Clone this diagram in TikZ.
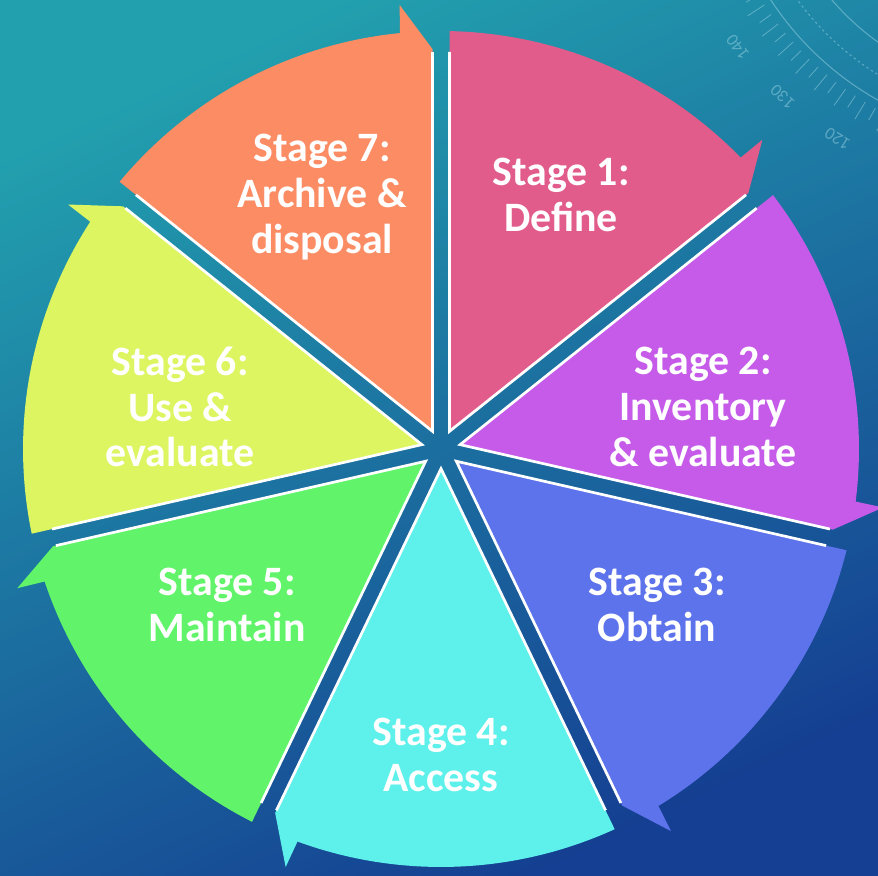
\documentclass[tikz,border=0pt]{standalone}
\usepackage{fontspec}
\setmainfont{Carlito}
\usetikzlibrary{calc}
\definecolor{bgA}{HTML}{22A0AE}
\definecolor{bgB}{HTML}{1A6E9E}
\definecolor{bgC}{HTML}{153F92}
\definecolor{dialc}{HTML}{A8DCE8}
\definecolor{stA}{HTML}{E15C8A}
\definecolor{stB}{HTML}{C55BE8}
\definecolor{stC}{HTML}{5D73EB}
\definecolor{stD}{HTML}{5EF0EA}
\definecolor{stE}{HTML}{61F46A}
\definecolor{stF}{HTML}{DCF561}
\definecolor{stG}{HTML}{FB8C63}
\tikzset{
  stagetext/.style={text=white, font=\fontsize{35.7}{39}\selectfont\bfseries, align=center, inner sep=0pt},
  dialline/.style={draw=dialc, opacity=0.45, line width=0.9pt},
  dialnum/.style={text=dialc, opacity=0.45, font=\fontsize{15}{15}\selectfont, inner sep=0pt},
  wedgeedge/.style={draw=white, line width=2.3pt, line join=miter},
}
\begin{document}
\begin{tikzpicture}[x=0.03cm,y=-0.03cm]
\useasboundingbox (0,0) rectangle (878,875);
\shade[top color=bgA, middle color=bgB, bottom color=bgC, shading angle=25] (0,0) rectangle (878,875);
% faint dial decoration
\begin{scope}
\clip (0,0) rectangle (878,875);
\coordinate (D) at (1030,-170);
\draw[dialline] ($(D)+(100:261)$) arc[start angle=100, end angle=170, radius=261];
\draw[dialline, dash pattern=on 2pt off 2.5pt] ($(D)+(100:288)$) arc[start angle=100, end angle=170, radius=288];
\draw[dialline] ($(D)+(100:310)$) arc[start angle=100, end angle=170, radius=310];
\foreach \i in {0,...,32} {
  \pgfmathsetmacro\ang{100+\i*2.12}
  \pgfmathsetmacro\len{mod(\i,2)==0 ? 338 : 332}
  \draw[dialline, line width=0.7pt] ($(D)+(\ang:318)$) -- ($(D)+(\ang:\len)$);
}
\node[dialnum, rotate=126.6] (n140) at ($(D)+(143.4:364)$) {140};
\node[dialnum, rotate=137.2] (n130) at ($(D)+(132.8:364)$) {130};
\node[dialnum, rotate=148.1] (n120) at ($(D)+(121.9:364)$) {120};
\end{scope}
% wedges
\coordinate (C) at (441,449);
\foreach \k/\col in {0/stA,1/stB,2/stC,3/stD,4/stE,5/stF,6/stG} {
  \pgfmathsetmacro\a{-90+\k*360/7}
  \pgfmathsetmacro\b{\a+360/7}
  \pgfmathsetmacro\m{\a+180/7}
  \pgfmathsetmacro\sa{\a+1.17}
  \pgfmathsetmacro\ea{\a+45.8}
  \pgfmathsetmacro\ta{\a+46.1}
  \coordinate (apex\k) at ($(C)+(\m:19.6)$);
  \coordinate (so\k) at ($(C)+(\a:417.9)+(\a+90:8.5)$);
  \coordinate (tip\k) at ($(C)+(\ta:446)$);
  \coordinate (eo\k) at ($(C)+(\b:399.9)+(\b-90:8.5)$);
  \fill[\col] (apex\k) -- (so\k) arc[start angle=\sa, end angle=\ea, radius=418] -- (tip\k) -- (eo\k) -- cycle;
  \coordinate (ws\k) at ($(C)+(\a:397)+(\a+90:8.5)$);
  \coordinate (we\k) at ($(C)+(\b:397)+(\b-90:8.5)$);
  \draw[wedgeedge] (ws\k) -- (apex\k) -- (we\k);
}
% labels
\node[stagetext] (s1) at (561,195) {Stage 1:\\Define};
\node[stagetext] (s2) at (703,407) {Stage 2:\\Inventory\\\& evaluate};
\node[stagetext] (s3) at (657,605) {Stage 3:\\Obtain};
\node[stagetext] (s4) at (441,755) {Stage 4:\\Access};
\node[stagetext] (s5) at (227,605) {Stage 5:\\Maintain};
\node[stagetext] (s6) at (180,407) {Stage 6:\\Use \&\\evaluate};
\node[stagetext] (s7) at (322,197) {Stage 7:\\Archive \&\\disposal};
\end{tikzpicture}
\end{document}
